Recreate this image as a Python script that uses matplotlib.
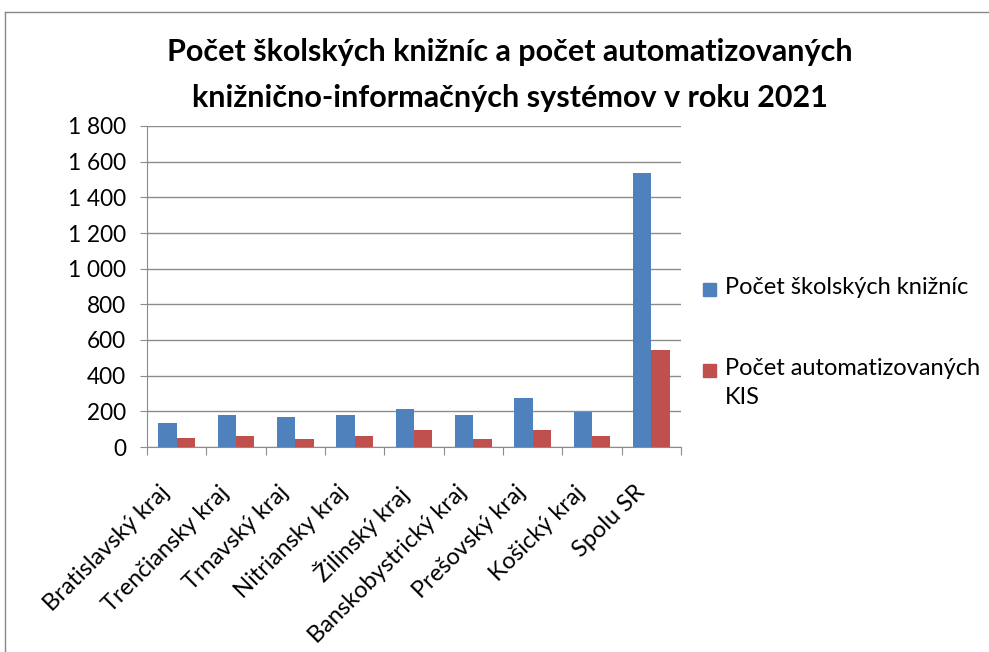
import matplotlib
matplotlib.use("Agg")
import matplotlib.pyplot as plt
from matplotlib.patches import Rectangle
import numpy as np
from matplotlib.ticker import FuncFormatter, FixedLocator

categories = ["Bratislavský kraj", "Trenčiansky kraj", "Trnavský kraj", "Nitriansky kraj",
              "Žilinský kraj", "Banskobystrický kraj", "Prešovský kraj", "Košický kraj", "Spolu SR"]
libraries = [136, 181, 170, 181, 214, 181, 274, 198, 1537]
automated = [52, 63, 46, 63, 97, 46, 97, 63, 543]
series_names = ["Počet školských knižníc", "Počet automatizovaných\nKIS"]
title = "Počet školských knižníc a počet automatizovaných\nknižnično-informačných systémov v roku 2021"

plt.rcParams['font.family'] = ['Lato', 'DejaVu Sans']
W, H = 989, 652
fig = plt.figure(figsize=(W / 100, H / 100), dpi=100)

# outer chart frame
fig.add_artist(plt.Line2D([5 / W, 5 / W], [0, 1 - 12 / H], color="#888888", lw=1))
fig.add_artist(plt.Line2D([5 / W, 1], [1 - 12 / H, 1 - 12 / H], color="#888888", lw=1))

ax = fig.add_axes([147 / W, 1 - 447 / H, (681 - 147) / W, (447 - 126) / H])
x = np.arange(len(categories))
w = 0.31
c_blue = "#4F81BD"
c_red = "#C0504D"
ax.bar(x - w / 2, libraries, width=w, color=c_blue, zorder=3)
ax.bar(x + w / 2, automated, width=w, color=c_red, zorder=3)

ax.set_xlim(-0.5, len(categories) - 0.5)
ax.set_ylim(0, 1800)
ax.set_yticks(np.arange(0, 1801, 200))
ax.yaxis.set_major_formatter(FuncFormatter(lambda v, p: f"{int(v):,}".replace(",", " ")))
ax.grid(axis="y", color="#8c8c8c", lw=1, zorder=0)
for s in ["top", "right"]:
    ax.spines[s].set_visible(False)
ax.spines["left"].set_color("#8c8c8c")
ax.spines["bottom"].set_color("#8c8c8c")

# category boundary ticks (major) and rotated labels (minor, shifted slightly left)
ax.xaxis.set_major_locator(FixedLocator(np.arange(-0.5, len(categories), 1)))
ax.xaxis.set_major_formatter(FuncFormatter(lambda v, p: ""))
ax.xaxis.set_minor_locator(FixedLocator(x - 0.3))
ax.set_xticklabels(categories, minor=True, rotation=45, ha="right",
                   rotation_mode="anchor", fontsize=17)
ax.tick_params(axis="x", which="major", length=6, color="#8c8c8c", direction="out")
ax.tick_params(axis="x", which="minor", length=0, pad=25)
ax.tick_params(axis="y", length=5, color="#8c8c8c", labelsize=16.3, pad=10)

fig.text(510 / W, 1 - 75 / H, title, ha="center", va="center", fontsize=22, fontweight="bold",
         linespacing=1.8)

# legend
legend_y = [289, 370]
for name, col, yc in zip(series_names, [c_blue, c_red], legend_y):
    fig.add_artist(Rectangle((703 / W, 1 - (yc + 6.5) / H), 13 / W, 13 / H,
                             transform=fig.transFigure, color=col))
    fig.text(725 / W, 1 - (yc - 12) / H, name, ha="left", va="top", fontsize=17,
             linespacing=1.45)

fig.savefig("out.png", dpi=100)
